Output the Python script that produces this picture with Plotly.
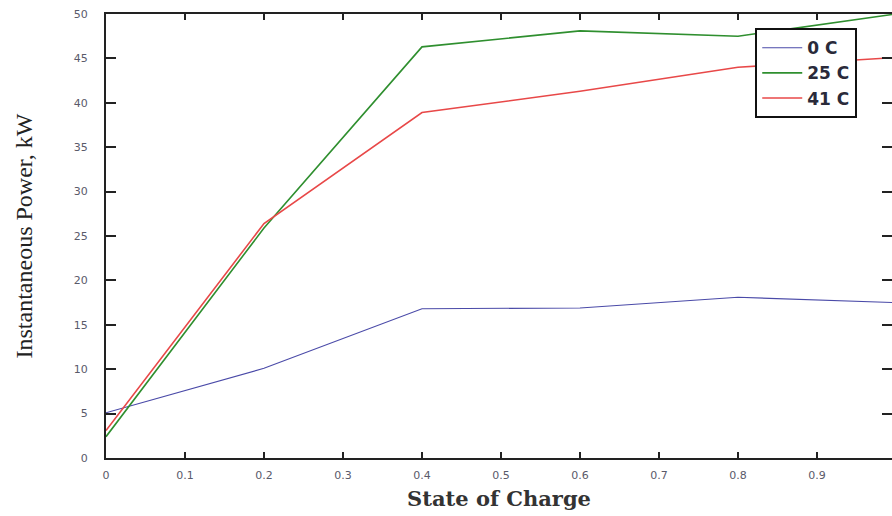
import plotly.graph_objects as go

soc = [0, 0.2, 0.4, 0.6, 0.8, 1.0]
p_0c = [5.1, 10.1, 16.8, 16.9, 18.1, 17.5]
p_25c = [2.4, 25.9, 46.3, 48.1, 47.5, 50.0]
p_41c = [3.1, 26.4, 38.9, 41.3, 44.0, 45.1]
series_names = ["0 C", "25 C", "41 C"]
colors = ["#4a4aa8", "#2f8f2f", "#e84848"]
widths = [1.1, 1.6, 1.6]
x_ticks = [0, 0.1, 0.2, 0.3, 0.4, 0.5, 0.6, 0.7, 0.8, 0.9]
x_ticktext = ["0", "0.1", "0.2", "0.3", "0.4", "0.5", "0.6", "0.7", "0.8", "0.9"]

fig = go.Figure()
for name, vals, c, w in zip(series_names, [p_0c, p_25c, p_41c], colors, widths):
    fig.add_trace(go.Scatter(x=soc, y=vals, mode="lines", name=name,
                             line=dict(color=c, width=w)))

axis_common = dict(showgrid=False, zeroline=False, showline=True, linecolor="#222",
                   linewidth=2, mirror="allticks", ticks="inside", tickcolor="#222",
                   automargin=False,
                   tickfont=dict(family="DejaVu Sans", size=11, color="#5a5a6a"))

fig.update_layout(
    width=892, height=516,
    margin=dict(l=106, r=0, t=14, b=58),
    paper_bgcolor="white", plot_bgcolor="white",
    xaxis=dict(range=[0, 0.995], tickvals=x_ticks, ticktext=x_ticktext,
               ticklen=6, tickwidth=2, ticklabelstandoff=6,
               title=dict(text="State of Charge", standoff=10,
                          font=dict(family="DejaVu Serif", size=21, color="#333",
                                    weight="bold")),
               **axis_common),
    yaxis=dict(range=[0, 50], dtick=5, ticklen=10, tickwidth=2, ticklabelstandoff=14,
               title=dict(text="Instantaneous Power, kW", standoff=34,
                          font=dict(family="Liberation Serif", size=24, color="#222")),
               **axis_common),
    legend=dict(x=0.826, y=0.968, xanchor="left", yanchor="top",
                bordercolor="#111", borderwidth=2, bgcolor="white",
                font=dict(family="DejaVu Sans", size=17, color="#2a2a3a", weight=600),
                tracegroupgap=0, itemwidth=40),
    showlegend=True,
)

fig.write_html(
    "out.html",
    config={"displayModeBar": False},
    post_script="document.body.style.margin='0';window.dispatchEvent(new Event('resize'));",
)
